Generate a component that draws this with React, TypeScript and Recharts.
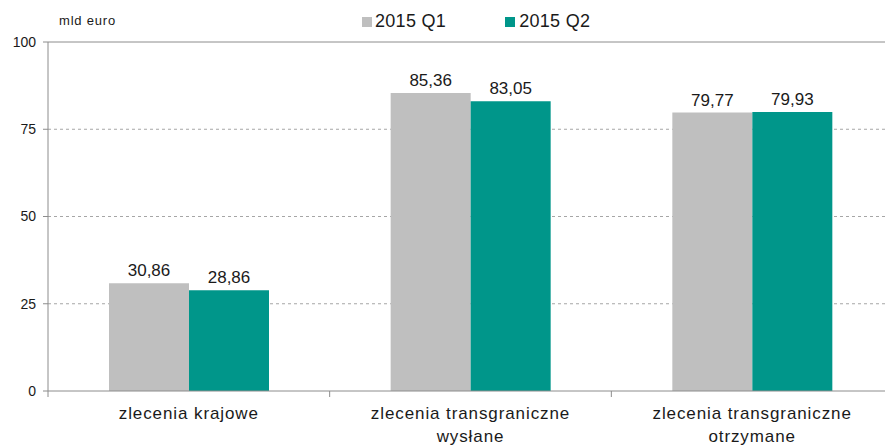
import { BarChart, Bar, XAxis, YAxis, CartesianGrid, ReferenceLine, LabelList } from "recharts";

const categories = [
  "zlecenia krajowe",
  "zlecenia transgraniczne\nwysłane",
  "zlecenia transgraniczne\notrzymane",
];
const q1Values = [30.86, 85.36, 79.77];
const q2Values = [28.86, 83.05, 79.93];
const yTicks = [0, 25, 50, 75, 100];
const gridValues = [25, 50, 75];

const GRAY = "#bfbfbf";
const TEAL = "#00968a";
const AXIS = "#8c8c8c";
const TEXT = "#1a1a1a";
const FONT = "'Liberation Sans', Arial, sans-serif";

const data = categories.map((name, i) => ({
  name,
  q1: q1Values[i],
  q2: q2Values[i],
}));

const CHART_W = 900;
const PLOT_LEFT = 48;
const PLOT_RIGHT = 7;
const BAND = (CHART_W - PLOT_LEFT - PLOT_RIGHT) / categories.length;

const fmt = (v: number) => v.toFixed(2).replace(".", ",");

function CategoryTick(props: any) {
  const { x, y, payload, index } = props;
  const lines = String(payload.value).split("\n");
  const axisY = y - 8;
  return (
    <g>
      <line x1={x - BAND / 2} x2={x - BAND / 2} y1={axisY} y2={axisY + 6} stroke={AXIS} />
      {index === categories.length - 1 && (
        <line x1={x + BAND / 2} x2={x + BAND / 2} y1={axisY} y2={axisY + 6} stroke={AXIS} />
      )}
      <text
        x={x}
        y={axisY + 28}
        textAnchor="middle"
        fontSize={17}
        fill={TEXT}
        fontFamily={FONT}
        style={{ letterSpacing: "0.9px" }}
      >
        {lines.map((l, i) => (
          <tspan key={i} x={x} dy={i === 0 ? 0 : 23}>
            {l}
          </tspan>
        ))}
      </text>
    </g>
  );
}

export default function App() {
  return (
    <div
      style={{
        position: "absolute",
        left: 0,
        top: 0,
        width: 885,
        height: 446,
        overflow: "hidden",
        background: "#fff",
        fontFamily: FONT,
      }}
    >
      <div style={{ position: "absolute", left: 59, top: 13, fontSize: 13, color: TEXT, letterSpacing: 0.8 }}>
        mld euro
      </div>
      <div style={{ position: "absolute", top: 11, left: 362, display: "flex", alignItems: "center", fontSize: 18, color: TEXT }}>
        <span style={{ width: 10, height: 10, background: GRAY, marginRight: 3 }} />
        <span style={{ letterSpacing: 0.3 }}>2015 Q1</span>
        <span style={{ width: 10, height: 10, background: TEAL, marginLeft: 59, marginRight: 4 }} />
        <span style={{ letterSpacing: 0.3 }}>2015 Q2</span>
      </div>
      <BarChart
        width={CHART_W}
        height={446}
        data={data}
        margin={{ top: 42, right: PLOT_RIGHT, left: 0, bottom: 5 }}
        barCategoryGap={61}
        barGap={0}
      >
        <CartesianGrid vertical={false} horizontalValues={gridValues} stroke="#a6a6a6" strokeDasharray="3 3" />
        <ReferenceLine y={100} stroke={AXIS} strokeWidth={1} />
        <XAxis
          dataKey="name"
          interval={0}
          height={50}
          axisLine={{ stroke: AXIS }}
          tickLine={false}
          tick={<CategoryTick />}
        />
        <YAxis
          width={PLOT_LEFT}
          domain={[0, 100]}
          ticks={yTicks}
          axisLine={{ stroke: AXIS }}
          tickLine={{ stroke: AXIS }}
          tickSize={5}
          tickMargin={7}
          tick={{ fontSize: 14, fill: TEXT, fontFamily: FONT }}
        />
        <Bar dataKey="q1" name="2015 Q1" fill={GRAY} isAnimationActive={false}>
          <LabelList dataKey="q1" position="top" offset={7} formatter={(v: any) => fmt(Number(v))} style={{ fontSize: 17, fill: TEXT, fontFamily: FONT }} />
        </Bar>
        <Bar dataKey="q2" name="2015 Q2" fill={TEAL} isAnimationActive={false}>
          <LabelList dataKey="q2" position="top" offset={7} formatter={(v: any) => fmt(Number(v))} style={{ fontSize: 17, fill: TEXT, fontFamily: FONT }} />
        </Bar>
      </BarChart>
    </div>
  );
}
